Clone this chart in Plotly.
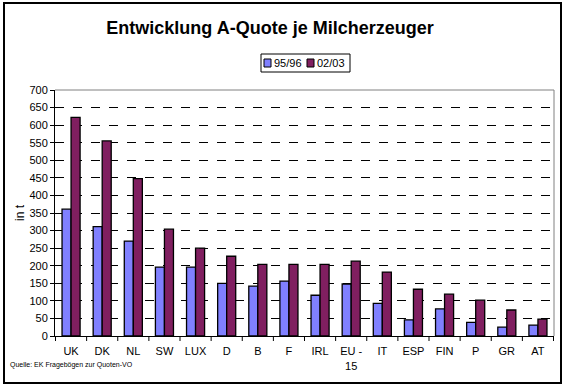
import plotly.graph_objects as go

categories = ["UK", "DK", "NL", "SW", "LUX", "D", "B", "F", "IRL", "EU -<br>15",
              "IT", "ESP", "FIN", "P", "GR", "AT"]
values_9596 = [361, 311, 270, 196, 196, 150, 142, 156, 116, 148, 93, 46, 77, 39, 25, 31]
values_0203 = [622, 555, 448, 304, 250, 227, 204, 204, 204, 213, 182, 133, 119, 102, 74, 48]
y_ticks = list(range(0, 701, 50))
series_names = ["95/96", "02/03"]
series_colors = ["#8080FF", "#801F60"]

W, H = 563, 387
L, R, T, B = 55, 9, 90, 51
pw, ph = W - L - R, H - T - B

def px(x):
    return (x - L) / pw

def py(y):
    return (H - B - y) / ph

fig = go.Figure()
for name, vals, col in zip(series_names, [values_9596, values_0203], series_colors):
    fig.add_trace(go.Bar(x=categories, y=vals, name=name,
                         marker=dict(color=col, line=dict(color="black", width=1.3))))

fig.update_layout(
    width=W, height=H,
    margin=dict(l=L, r=R, t=T, b=B, autoexpand=False),
    paper_bgcolor="white", plot_bgcolor="white",
    barmode="group", bargap=0.42, bargroupgap=0,
    font=dict(family="Arial, Liberation Sans", size=11, color="black"),
    title=dict(text="<b>Entwicklung A-Quote je Milcherzeuger</b>",
               x=270 / W, xref="container", xanchor="center",
               y=1 - 28 / H, yref="container", yanchor="middle",
               font=dict(size=18, family="Arial, Liberation Sans")),
    showlegend=False,
)
fig.update_yaxes(range=[0, 700], tickvals=y_ticks, ticks="outside", ticklen=4,
                 tickcolor="black", showline=True, linecolor="black", linewidth=1,
                 showgrid=True, gridcolor="black", griddash="dash", gridwidth=1,
                 zeroline=False, tickfont=dict(size=11), automargin=False,
                 title=dict(text="in t", font=dict(size=12), standoff=2))
fig.update_xaxes(showline=True, linecolor="black", linewidth=1, ticks="",
                 showgrid=False, tickfont=dict(size=11), automargin=False,
                 ticklabelstandoff=5)

# tick marks between categories
for i in range(len(categories) + 1):
    fig.add_shape(type="line", xref="x", yref="paper", x0=i - 0.5, x1=i - 0.5,
                  y0=0, y1=-5 / ph, line=dict(color="black", width=1))
# gray plot border top and right
fig.add_shape(type="line", xref="paper", yref="paper", x0=0, x1=1, y0=1, y1=1,
              line=dict(color="gray", width=1))
fig.add_shape(type="line", xref="paper", yref="paper", x0=1, x1=1, y0=0, y1=1,
              line=dict(color="gray", width=1))
# outer chart border
fig.add_shape(type="rect", xref="paper", yref="paper", x0=px(4), x1=px(561),
              y0=py(383), y1=py(3), line=dict(color="black", width=2))

# manual compact legend
fig.add_shape(type="rect", xref="paper", yref="paper", x0=px(261), x1=px(350),
              y0=py(72), y1=py(54), line=dict(color="black", width=1), fillcolor="white")
leg_x = [264, 307]
for lx, name, col in zip(leg_x, series_names, series_colors):
    fig.add_shape(type="rect", xref="paper", yref="paper", x0=px(lx), x1=px(lx + 7),
                  y0=py(67), y1=py(59), line=dict(color="black", width=1), fillcolor=col)
    fig.add_annotation(text=name, xref="paper", yref="paper", x=px(lx + 8), y=py(63),
                       xanchor="left", yanchor="middle", showarrow=False,
                       font=dict(size=11))

fig.add_annotation(text="Quelle: EK Fragebögen zur Quoten-VO", xref="paper", yref="paper",
                   x=px(8), y=py(365), xanchor="left", yanchor="middle", showarrow=False,
                   font=dict(size=7))

fig.write_html("out.html", config={"displayModeBar": False},
               post_script="document.body.style.margin='0px';"
                           "document.documentElement.style.overflow='hidden';")
